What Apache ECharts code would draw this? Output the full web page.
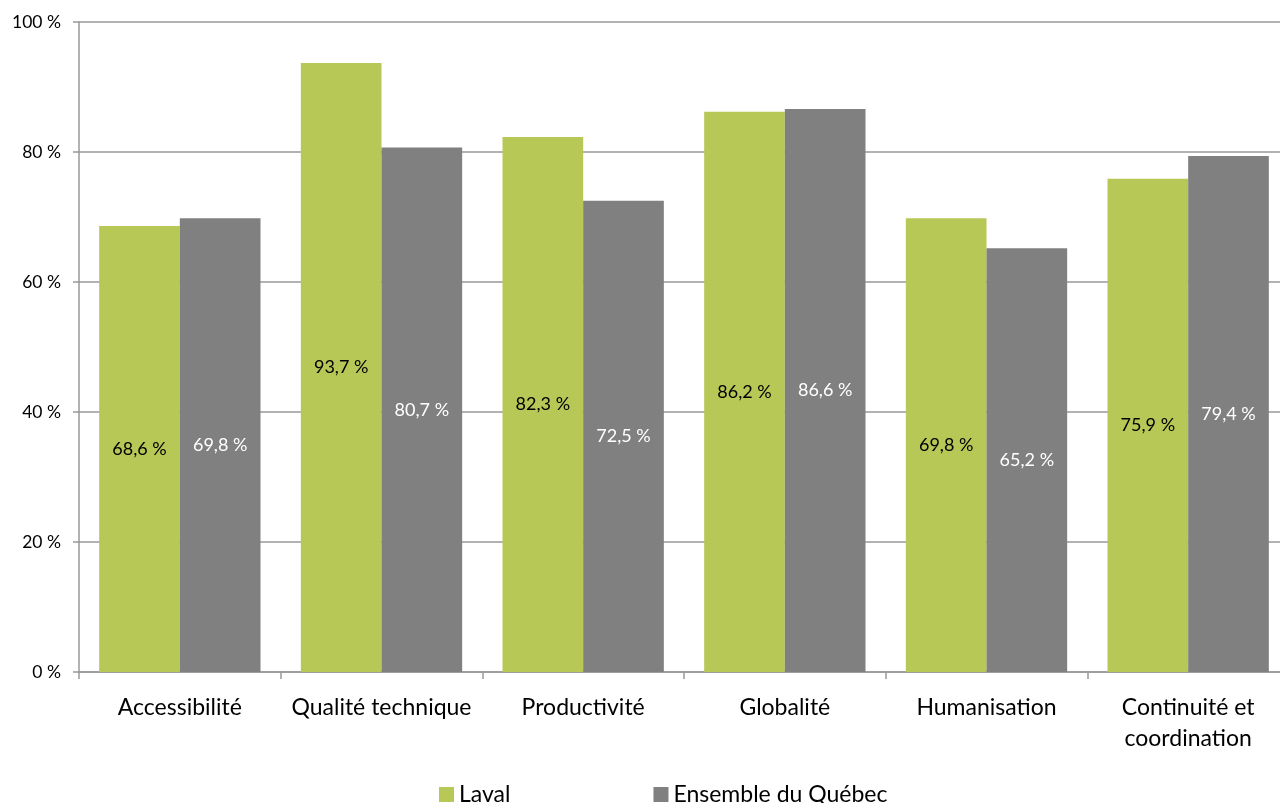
<!DOCTYPE html>
<html><head><meta charset="utf-8">
<script src="https://cdn.jsdelivr.net/npm/echarts@6/dist/echarts.min.js"></script>
<style>html,body{margin:0;padding:0;background:#fff;overflow:hidden;width:1280px;height:803px}#c{width:1289px;height:803px}</style>
</head><body><div id="c"></div>
<script>
const categories = ['Accessibilité', 'Qualité technique', 'Productivité', 'Globalité', 'Humanisation', 'Continuité et\ncoordination'];
const laval = [68.6, 93.7, 82.3, 86.2, 69.8, 75.9];
const quebec = [69.8, 80.7, 72.5, 86.6, 65.2, 79.4];
const seriesNames = ['Laval', 'Ensemble du Québec'];
const yTicks = [0, 20, 40, 60, 80, 100];

const FONT = 'Lato, "Open Sans", sans-serif';
const fmt = v => v.toFixed(1).replace('.', ',') + ' %';
const chart = echarts.init(document.getElementById('c'));
chart.setOption({
  animation: false,
  textStyle: { fontFamily: FONT },
  grid: { left: 79, top: 22, right: 0, bottom: 131 },
  legend: {
    bottom: -8, left: 434, itemWidth: 15, itemHeight: 15, itemGap: 143,
    icon: 'rect',
    textStyle: { fontSize: 23, color: '#000', fontFamily: FONT },
    data: seriesNames
  },
  xAxis: {
    type: 'category', data: categories,
    axisLine: { lineStyle: { color: '#999', width: 1.5 } },
    axisTick: { show: true, length: 7, lineStyle: { color: '#999', width: 1.5 } },
    axisLabel: { fontSize: 23, color: '#000', margin: 20, lineHeight: 31, fontFamily: FONT, interval: 0 }
  },
  yAxis: {
    type: 'value', min: 0, max: 100, interval: 20,
    axisLine: { show: true, lineStyle: { color: '#999', width: 1.5 } },
    axisTick: { show: true, length: 6, lineStyle: { color: '#999', width: 1.5 } },
    splitLine: { lineStyle: { color: '#999', width: 1.5 } },
    axisLabel: { fontSize: 17.5, color: '#000', margin: 18, fontFamily: FONT,
      formatter: v => yTicks.includes(v) ? v + ' %' : '' }
  },
  series: [
    { name: seriesNames[0], type: 'bar', data: laval, barGap: '0%', barCategoryGap: '20%',
      itemStyle: { color: '#b7c857' },
      label: { show: true, position: 'inside', color: '#000', fontSize: 18, fontFamily: FONT, formatter: p => fmt(p.value) } },
    { name: seriesNames[1], type: 'bar', data: quebec, barGap: '0%', barCategoryGap: '20%',
      itemStyle: { color: '#808080' },
      label: { show: true, position: 'inside', color: '#fff', fontSize: 18, fontFamily: FONT, formatter: p => fmt(p.value) } }
  ]
});
</script></body></html>
